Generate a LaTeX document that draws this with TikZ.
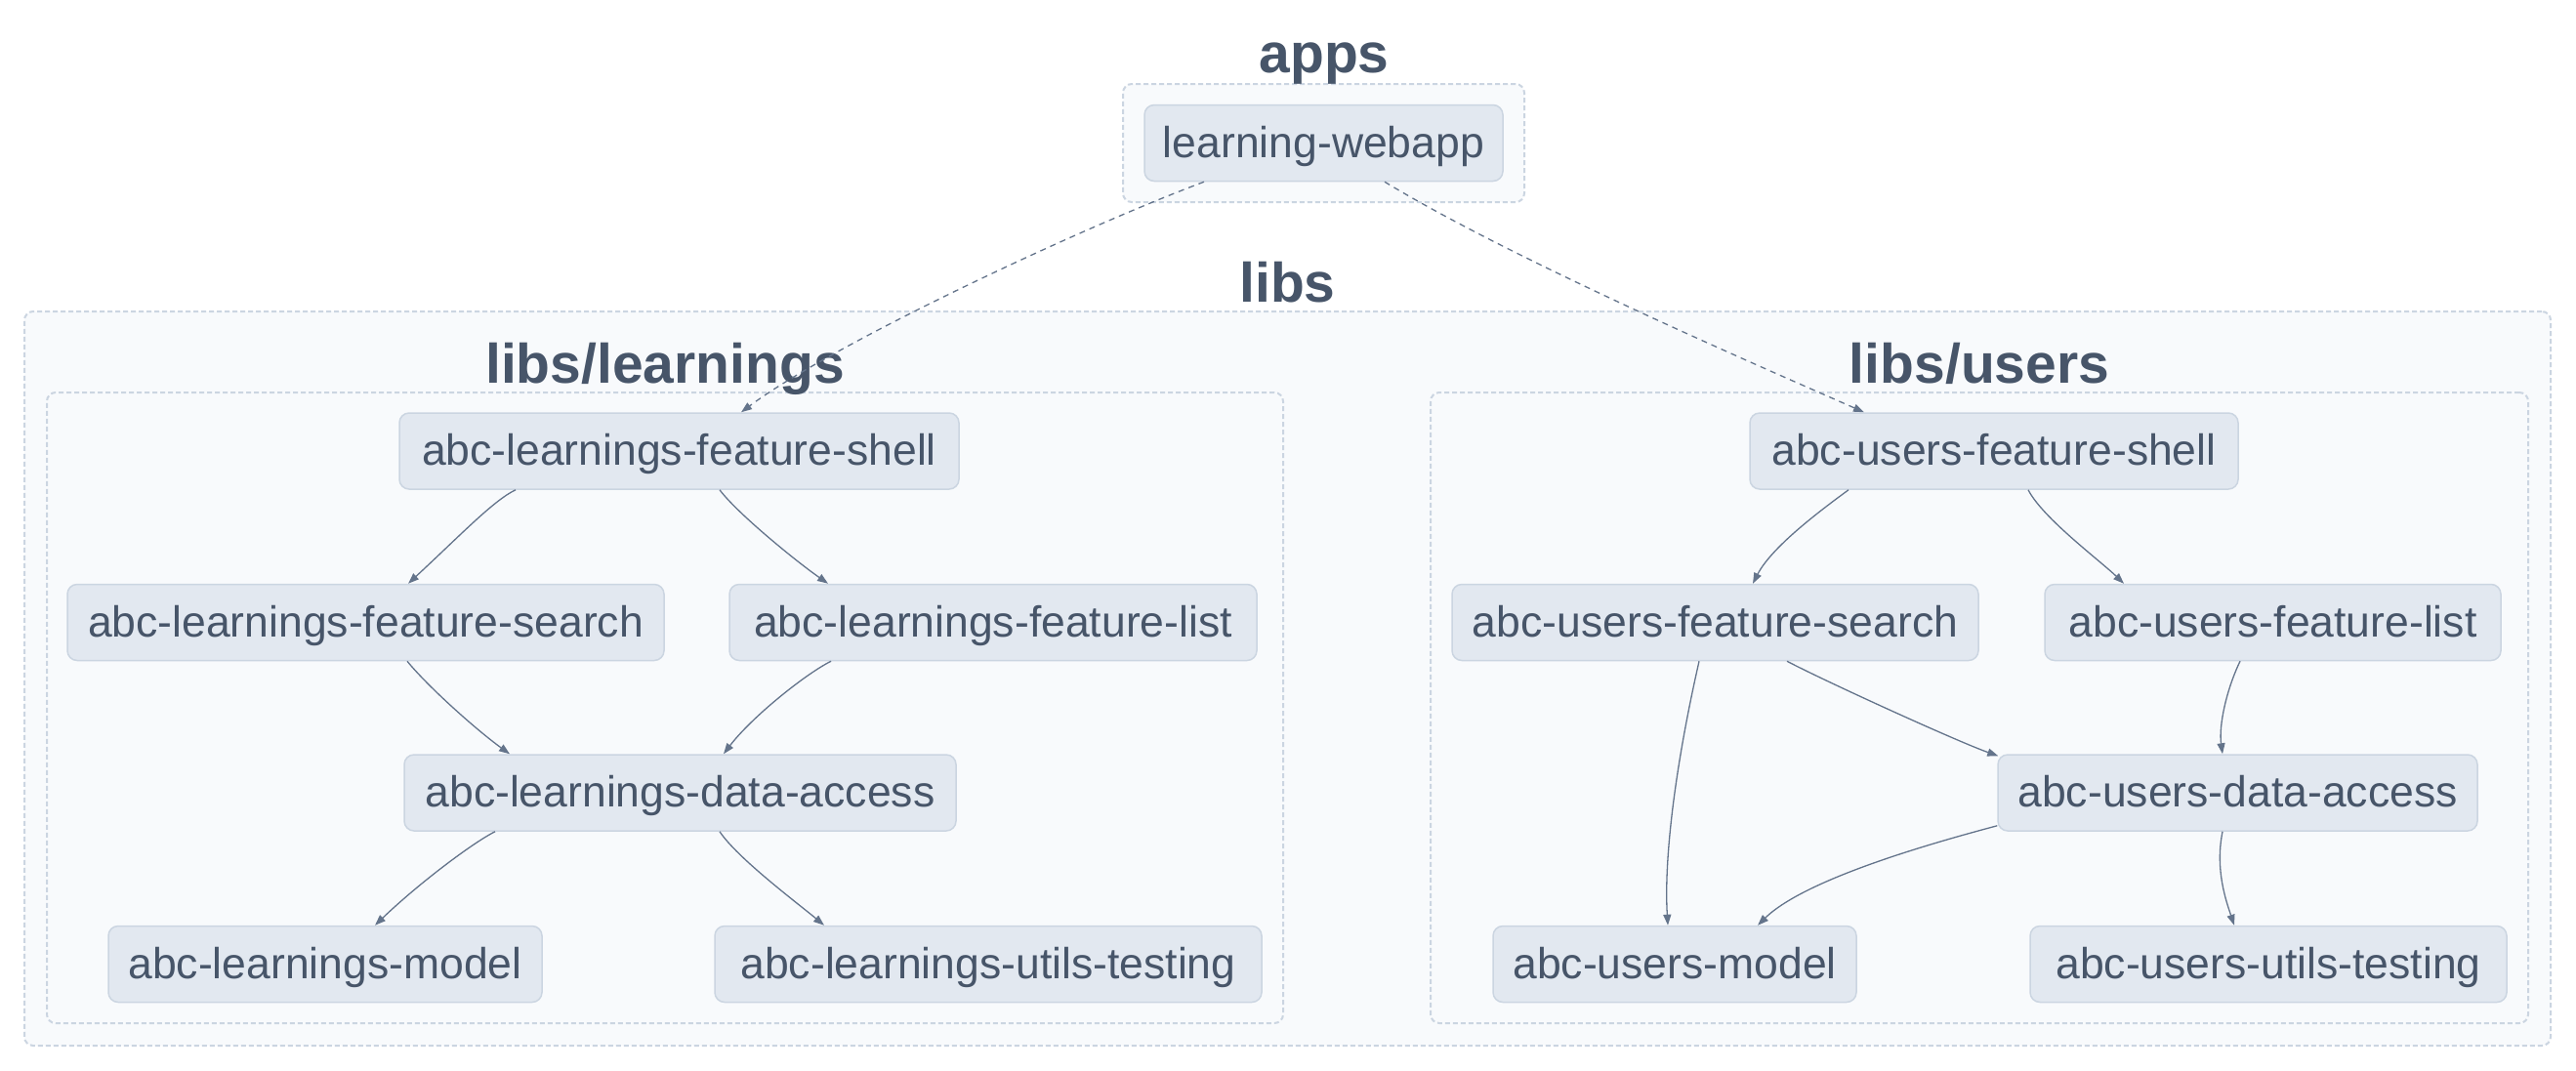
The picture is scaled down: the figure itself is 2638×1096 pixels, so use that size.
\documentclass[tikz,border=0pt]{standalone}
\usepackage{fontspec}
\setmainfont{Liberation Sans}
\usetikzlibrary{arrows.meta}
\definecolor{txt}{HTML}{475569}
\definecolor{nodefill}{HTML}{E2E8F0}
\definecolor{nodeline}{HTML}{CBD5E1}
\definecolor{grpfill}{HTML}{F8FAFC}
\definecolor{edgecol}{HTML}{64748B}
\begin{document}
\begin{tikzpicture}[x=1pt,y=-1pt,
  pkg/.style={draw=nodeline, fill=nodefill, line width=1.5pt, rounded corners=10pt, minimum height=78pt, inner sep=0pt, text=txt, font=\fontsize{44.5}{50}\selectfont, text height=32pt, text depth=3pt},
  grp/.style={draw=nodeline, fill=grpfill, line width=2pt, dash pattern=on 5pt off 3pt, rounded corners=9pt, inner sep=0pt},
  grptitle/.style={anchor=base, text=txt, font=\fontsize{57}{60}\selectfont\bfseries, inner sep=0pt},
  dep/.style={draw=edgecol, line width=1.3pt, -{Triangle[length=11pt,width=8pt]}},
  impl/.style={dep, dash pattern=on 6pt off 5pt}]
\fill[white] (0,0) rectangle (2638,1096);
\useasboundingbox (0,0) rectangle (2638,1096);
% groups
\node[grp, minimum width=411pt, minimum height=121pt] (gapps) at (1355.5,146.5) {};
\node[grp, minimum width=2587pt, minimum height=752pt] (glibs) at (1318.5,695) {};
\node[grp, minimum width=1266pt, minimum height=646pt] (glearn) at (681,725) {};
\node[grp, minimum width=1124pt, minimum height=646pt] (gusers) at (2027,725) {};
\node[grptitle] (tapps) at (1356,74) {apps};
\node[grptitle] (tlibs) at (1318.5,309) {libs};
\node[grptitle] (tlearn) at (681,392) {libs/learnings};
\node[grptitle] (tusers) at (2027,392) {libs/users};
% nodes
\node[pkg, minimum width=367pt] (web) at (1355.5,146.5) {learning-webapp};
\node[pkg, minimum width=573pt] (Lshell) at (695.5,462) {abc-learnings-feature-shell};
\node[pkg, minimum width=611pt] (Lsearch) at (374.5,637.5) {abc-learnings-feature-search};
\node[pkg, minimum width=540pt] (Llist) at (1017,637.5) {abc-learnings-feature-list};
\node[pkg, minimum width=565pt] (Ldata) at (696.5,812) {abc-learnings-data-access};
\node[pkg, minimum width=444pt] (Lmodel) at (333,987.5) {abc-learnings-model};
\node[pkg, minimum width=560pt] (Lutils) at (1012,987.5) {abc-learnings-utils-testing};
\node[pkg, minimum width=500pt] (Ushell) at (2042,462) {abc-users-feature-shell};
\node[pkg, minimum width=539pt] (Usearch) at (1756.5,637.5) {abc-users-feature-search};
\node[pkg, minimum width=467pt] (Ulist) at (2327.5,637.5) {abc-users-feature-list};
\node[pkg, minimum width=491pt] (Udata) at (2291.5,812) {abc-users-data-access};
\node[pkg, minimum width=372pt] (Umodel) at (1715,987.5) {abc-users-model};
\node[pkg, minimum width=488pt] (Uutils) at (2323,987.5) {abc-users-utils-testing};
% edges
\draw[impl] ([xshift=-122.5pt]web.south) .. controls +(-133,50) and +(91,-68) .. ([xshift=63.5pt]Lshell.north);
\draw[impl] ([xshift=62.5pt]web.south) .. controls +(132,80) and +(-109,-48) .. ([xshift=-133pt]Ushell.north);
\draw[dep] ([xshift=-167.5pt]Lshell.south) .. controls +(-23,11) and +(52,-48) .. ([xshift=43.5pt]Lsearch.north);
\draw[dep] ([xshift=41.5pt]Lshell.south) .. controls +(18,24) and +(-33,-23) .. ([xshift=-169pt]Llist.north);
\draw[dep] ([xshift=42.5pt]Lsearch.south) .. controls +(23,28) and +(-32,-23) .. ([xshift=-174.5pt]Ldata.north);
\draw[dep] ([xshift=-166pt]Llist.south) .. controls +(-26,13) and +(29,-38) .. ([xshift=44.5pt]Ldata.north);
\draw[dep] ([xshift=-189.5pt]Ldata.south) .. controls +(-22,11) and +(46,-44) .. ([xshift=51pt]Lmodel.north);
\draw[dep] ([xshift=40.5pt]Ldata.south) .. controls +(18,27) and +(-29,-24) .. ([xshift=-168pt]Lutils.north);
\draw[dep] ([xshift=-149pt]Ushell.south) .. controls +(-23,17) and +(20,-39) .. ([xshift=38.5pt]Usearch.north);
\draw[dep] ([xshift=35pt]Ushell.south) .. controls +(15,29) and +(-25,-24) .. ([xshift=-152.5pt]Ulist.north);
\draw[dep] ([xshift=-16.5pt]Usearch.south) .. controls +(-26,114) and +(-4,-64) .. ([xshift=-7pt]Umodel.north);
\draw[dep] ([xshift=73.5pt]Usearch.south) .. controls +(40,21) and +(-40,-14) .. ([shift={(1pt,-2pt)}]Udata.north west);
\draw[dep] ([xshift=-33.5pt]Ulist.south) .. controls +(-14,29) and +(-4,-29) .. ([xshift=-15.5pt]Udata.north);
\draw[dep] ([yshift=6pt]Udata.south west) .. controls +(-56,15) and +(50,-49) .. ([xshift=85pt]Umodel.north);
\draw[dep] ([xshift=-15.5pt]Udata.south) .. controls +(-8,39) and +(-8,-24) .. ([xshift=-35pt]Uutils.north);
\end{tikzpicture}
\end{document}
